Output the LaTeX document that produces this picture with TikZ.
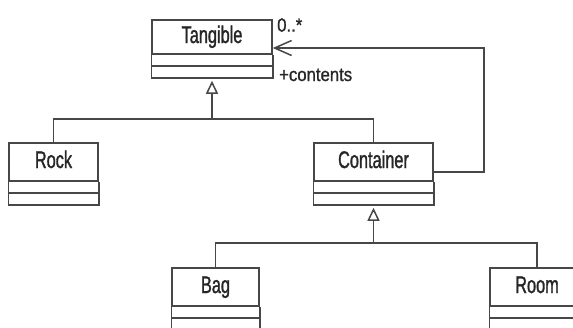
\documentclass[tikz,border=0pt]{standalone}
\usepackage{fontspec}
\usetikzlibrary{arrows.meta}
\newfontfamily\umlname[FakeStretch=0.68,FakeBold=1.3]{Liberation Sans}
\newfontfamily\umllabel[FakeStretch=0.88,FakeBold=1.1]{Liberation Sans}
\tikzset{
  umlline/.style={draw=black!72, line width=1.5pt},
  classname/.style={umlline, rectangle, minimum height=38pt, inner sep=0pt,
    text height=17pt, text depth=5pt, text=black!85,
    font=\umlname\fontsize{24}{24}\selectfont},
  rolelabel/.style={inner sep=0pt, text=black!85,
    font=\umllabel\fontsize{19}{19}\selectfont},
  inherits/.style={umlline, -{Triangle[open,length=13pt,width=12pt]}, shorten >=3pt},
  navigable/.style={umlline, -{Straight Barb[length=17pt,width=15pt]}}
}
% attribute and operation rows under a class name
\newcommand{\classrows}[1]{%
  \draw[umlline] (#1.south west) -- ++(0,23) -| (#1.south east);
  \draw[umlline] ([yshift=-11pt]#1.south west) -- ([yshift=-11pt]#1.south east);}

\begin{document}
\begin{tikzpicture}[x=1pt,y=-1pt]
\clip (0,0) rectangle (573,327);

\node[classname, minimum width=120pt, minimum height=34pt] (tangible) at (212,37) {Tangible};
\classrows{tangible}
\node[classname, minimum width=89pt] (rock) at (53.5,162) {Rock};
\classrows{rock}
\node[classname, minimum width=119pt] (container) at (373.5,162) {Container};
\classrows{container}
\node[classname, minimum width=87pt] (bag) at (215.5,287) {Bag};
\classrows{bag}
\node[classname, minimum width=94pt] (room) at (537,287) {Room};
\classrows{room}

% generalizations
\coordinate (fork1) at (212,119);
\draw[umlline] (rock.north) |- (fork1) -| (container.north);
\draw[inherits] (fork1) -- ([yshift=-23pt]tangible.south);
\coordinate (fork2) at (373.5,243);
\draw[umlline] (bag.north) |- (fork2) -| (room.north);
\draw[inherits] (fork2) -- ([yshift=-23pt]container.south);

% association
\coordinate (bend) at (484,48);
\draw[navigable] ([yshift=-10pt]container.east) -| (bend) -- ([yshift=-11pt]tangible.east);
\node[rolelabel, anchor=south west] (mult) at (277,32) {0..*};
\node[rolelabel, anchor=base west] (role) at (279,81) {+contents};
\end{tikzpicture}
\end{document}
